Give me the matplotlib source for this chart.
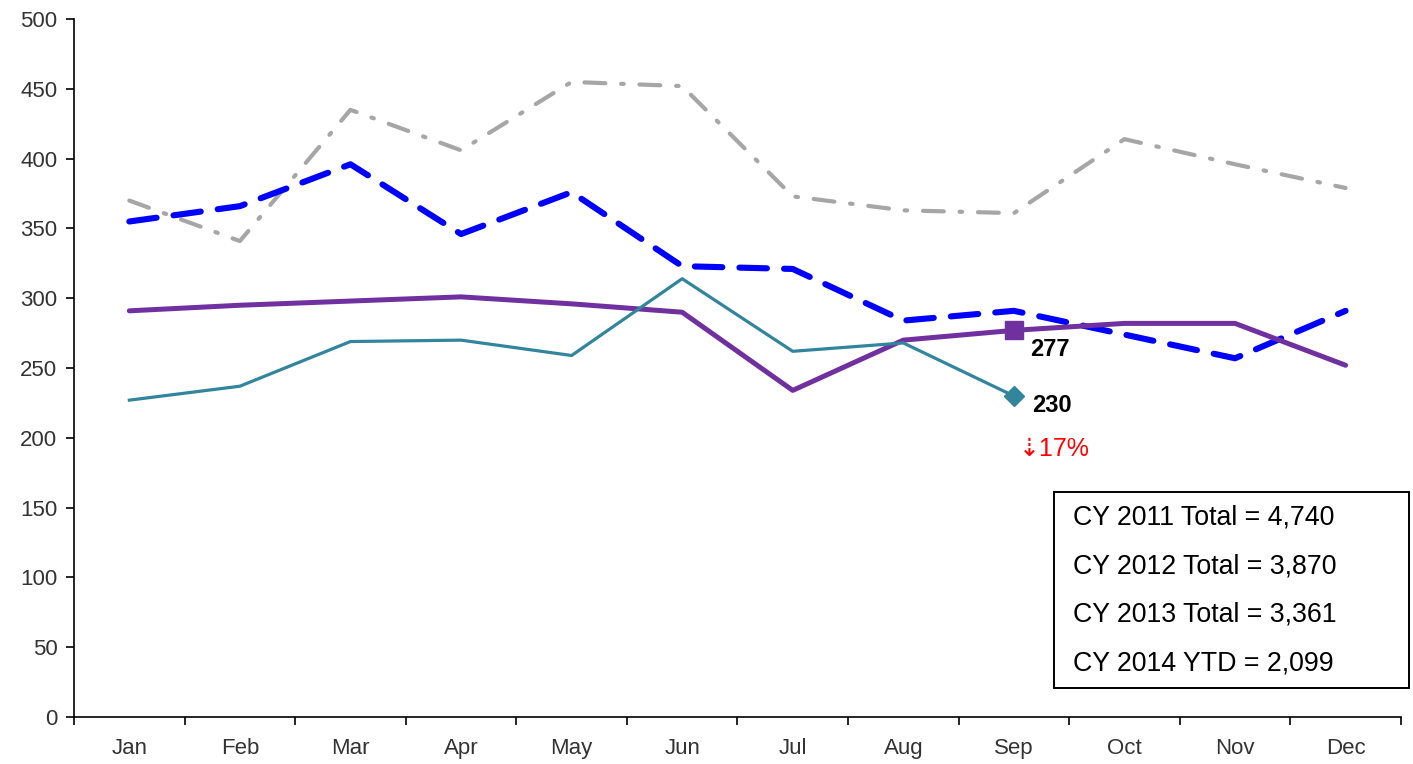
import matplotlib
matplotlib.use("Agg")
import matplotlib.pyplot as plt
from matplotlib.patches import Rectangle
import numpy as np

plt.rcParams['font.family'] = ['Liberation Sans', 'DejaVu Sans']

months = ['Jan', 'Feb', 'Mar', 'Apr', 'May', 'Jun', 'Jul', 'Aug', 'Sep', 'Oct', 'Nov', 'Dec']
cy2011 = [370, 341, 435, 406, 455, 452, 373, 363, 361, 414, 396, 379]
cy2012 = [355, 366, 396, 346, 376, 323, 321, 284, 291, 274, 257, 291]
cy2013 = [291, 295, 298, 301, 296, 290, 234, 270, 277, 282, 282, 252]
cy2014 = [227, 237, 269, 270, 259, 314, 262, 268, 230]
totals = ['CY 2011 Total = 4,740', 'CY 2012 Total = 3,870',
          'CY 2013 Total = 3,361', 'CY 2014 YTD = 2,099']

fig = plt.figure(figsize=(14.13, 7.64), dpi=100)
ax = fig.add_axes([0.0524, 0.0615, 0.939, 0.9135])
x = np.arange(len(months))

ax.plot(x, cy2011, color='#A6A6A6', lw=3.0, dashes=(5, 3.8, 0.6, 3.8),
        dash_capstyle='round', zorder=2)
ax.plot(x, cy2012, color='#0000FF', lw=4.4, dashes=(4.5, 2.8),
        dash_capstyle='round', zorder=3)
ax.plot(x, cy2013, color='#7030A0', lw=3.6, solid_capstyle='round', zorder=4)
ax.plot(x[8], cy2013[8], marker='s', ms=13, color='#7030A0', zorder=5)
ax.plot(x[:len(cy2014)], cy2014, color='#31859C', lw=2.3, zorder=4)
ax.plot(x[8], cy2014[8], marker='D', ms=10, color='#31859C', zorder=5)

ax.annotate(str(cy2013[8]), (x[8], cy2013[8]), xytext=(12, -14), textcoords='offset points',
            fontsize=17, fontweight='bold', ha='left', va='center')
ax.annotate(str(cy2014[8]), (x[8], cy2014[8]), xytext=(13, -6.5), textcoords='offset points',
            fontsize=17, fontweight='bold', ha='left', va='center')
ax.annotate('\u21e317%', (x[8], cy2014[8]), xytext=(3.5, -38), textcoords='offset points',
            fontsize=18, color='#FF0000', ha='left', va='center')

# totals box, placed in figure coordinates
fig.patches.append(Rectangle((0.746, 0.0995), 0.2512, 0.2565, transform=fig.transFigure,
                             fc='white', ec='black', lw=1.4, zorder=6))
for i, t in enumerate(totals):
    fig.text(0.7594, 0.322 - i * 0.0633, t, fontsize=19.3, ha='left', va='center', zorder=7)

ax.set_xlim(-0.5, 11.5)
ax.set_ylim(0, 500)
ax.set_yticks(np.arange(0, 501, 50))
ax.set_xticks(x)
ax.set_xticklabels(months)
ax.set_xticks(np.arange(-0.5, 12, 1), minor=True)
ax.tick_params(axis='x', which='major', length=0, pad=15, labelsize=16)
ax.tick_params(axis='x', which='minor', length=6, direction='out', width=1.2)
ax.tick_params(axis='y', length=6, direction='out', width=1.2, labelsize=16, pad=6)
for lab in ax.get_xticklabels() + ax.get_yticklabels():
    lab.set_color('#333333')
ax.spines['top'].set_visible(False)
ax.spines['right'].set_visible(False)
ax.spines['left'].set_linewidth(1.2)
ax.spines['bottom'].set_linewidth(1.2)

fig.savefig('out.png', dpi=100)
